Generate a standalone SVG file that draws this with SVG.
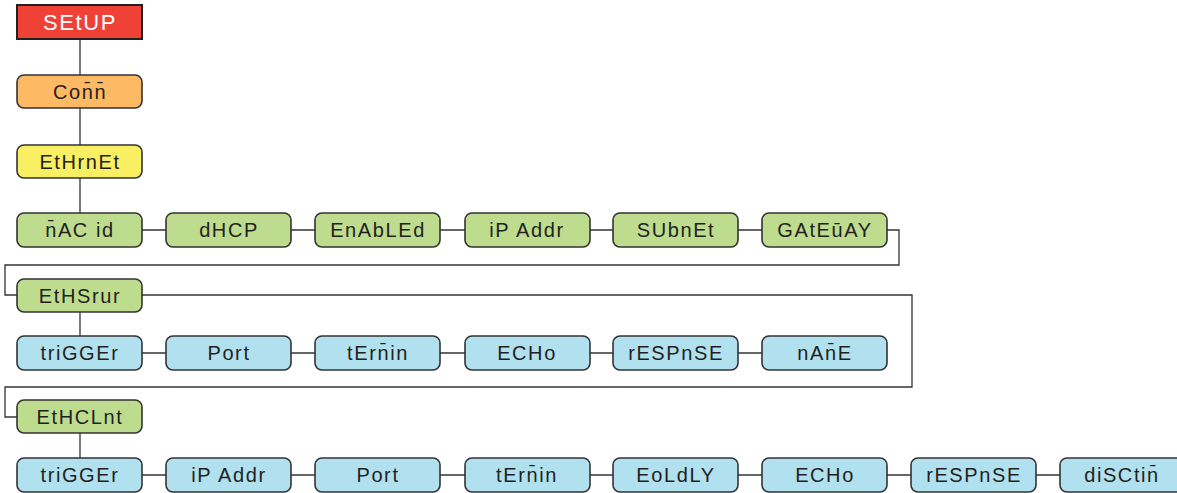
<svg xmlns="http://www.w3.org/2000/svg" width="1177" height="493" viewBox="0 0 1177 493">
<style>
rect{stroke:#333;stroke-width:1.6}
.r{fill:#ef4136;stroke:#231f20;stroke-width:2}
.o{fill:#fdb964}
.y{fill:#f8ef63}
.g{fill:#bedc8e}
.b{fill:#b1e1ef}
text{font-family:"Liberation Sans",Arial,sans-serif;font-size:20px;fill:#231f20;text-anchor:middle;letter-spacing:1.6px}
.w{fill:#ffffff;font-size:22px}
#connectors path{fill:none;stroke:#333;stroke-width:1.3}
</style>
<g id="connectors">
<path d="M80 39V75M80 108V145M80 178V213"/>
<path d="M142 230H166M291 230H315M440 230H465M590 230H613M738 230H762"/>
<path d="M887 230H899V265H5V295H17"/>
<path d="M142 295H912V387H5V417H17"/>
<path d="M80 312V336"/>
<path d="M142 353H166M291 353H315M440 353H465M590 353H613M738 353H762"/>
<path d="M80 433V458"/>
<path d="M142 475H166M291 475H315M440 475H465M590 475H613M738 475H762M887 475H911M1036 475H1060"/>
</g>
<g id="setup"><rect class="r" x="17" y="5" width="125" height="34"/><text class="w" x="80" y="30">SEtUP</text></g>
<g id="comm"><rect class="o" x="17" y="75" width="125" height="33" rx="7"/><text x="80" y="99">Con̄n̄</text></g>
<g id="ethrnet"><rect class="y" x="17" y="145" width="125" height="33" rx="7"/><text x="80" y="169">EtHrnEt</text></g>

<g id="macid"><rect class="g" x="17" y="213" width="125" height="34" rx="7"/><text x="80" y="237">n̄AC id</text></g>
<g id="dhcp"><rect class="g" x="166" y="213" width="125" height="34" rx="7"/><text x="229" y="237">dHCP</text></g>
<g id="enabled"><rect class="g" x="315" y="213" width="125" height="34" rx="7"/><text x="378" y="237">EnAbLEd</text></g>
<g id="ipaddr1"><rect class="g" x="465" y="213" width="125" height="34" rx="7"/><text x="527" y="237">iP Addr</text></g>
<g id="subnet"><rect class="g" x="613" y="213" width="125" height="34" rx="7"/><text x="676" y="237">SUbnEt</text></g>
<g id="gateway"><rect class="g" x="762" y="213" width="125" height="34" rx="7"/><text x="825" y="237">GAtEūAY</text></g>

<g id="ethsrvr"><rect class="g" x="17" y="279" width="125" height="33" rx="7"/><text x="80" y="303">EtHSrur</text></g>

<g id="s_trigger"><rect class="b" x="17" y="336" width="125" height="34" rx="7"/><text x="80" y="360">triGGEr</text></g>
<g id="s_port"><rect class="b" x="166" y="336" width="125" height="34" rx="7"/><text x="229" y="360">Port</text></g>
<g id="s_termin"><rect class="b" x="315" y="336" width="125" height="34" rx="7"/><text x="378" y="360">tErn̄in</text></g>
<g id="s_echo"><rect class="b" x="465" y="336" width="125" height="34" rx="7"/><text x="527" y="360">ECHo</text></g>
<g id="s_respnse"><rect class="b" x="613" y="336" width="125" height="34" rx="7"/><text x="676" y="360">rESPnSE</text></g>
<g id="s_name"><rect class="b" x="762" y="336" width="125" height="34" rx="7"/><text x="825" y="360">nAn̄E</text></g>

<g id="ethclnt"><rect class="g" x="17" y="400" width="125" height="33" rx="7"/><text x="80" y="424">EtHCLnt</text></g>

<g id="c_trigger"><rect class="b" x="17" y="458" width="125" height="34" rx="7"/><text x="80" y="482">triGGEr</text></g>
<g id="c_ipaddr"><rect class="b" x="166" y="458" width="125" height="34" rx="7"/><text x="229" y="482">iP Addr</text></g>
<g id="c_port"><rect class="b" x="315" y="458" width="125" height="34" rx="7"/><text x="378" y="482">Port</text></g>
<g id="c_termin"><rect class="b" x="465" y="458" width="125" height="34" rx="7"/><text x="527" y="482">tErn̄in</text></g>
<g id="c_eoldly"><rect class="b" x="613" y="458" width="125" height="34" rx="7"/><text x="676" y="482">EoLdLY</text></g>
<g id="c_echo"><rect class="b" x="762" y="458" width="125" height="34" rx="7"/><text x="825" y="482">ECHo</text></g>
<g id="c_respnse"><rect class="b" x="911" y="458" width="125" height="34" rx="7"/><text x="974" y="482">rESPnSE</text></g>
<g id="c_disctim"><rect class="b" x="1060" y="458" width="125" height="34" rx="7"/><text x="1122" y="482">diSCtin̄</text></g>
</svg>
